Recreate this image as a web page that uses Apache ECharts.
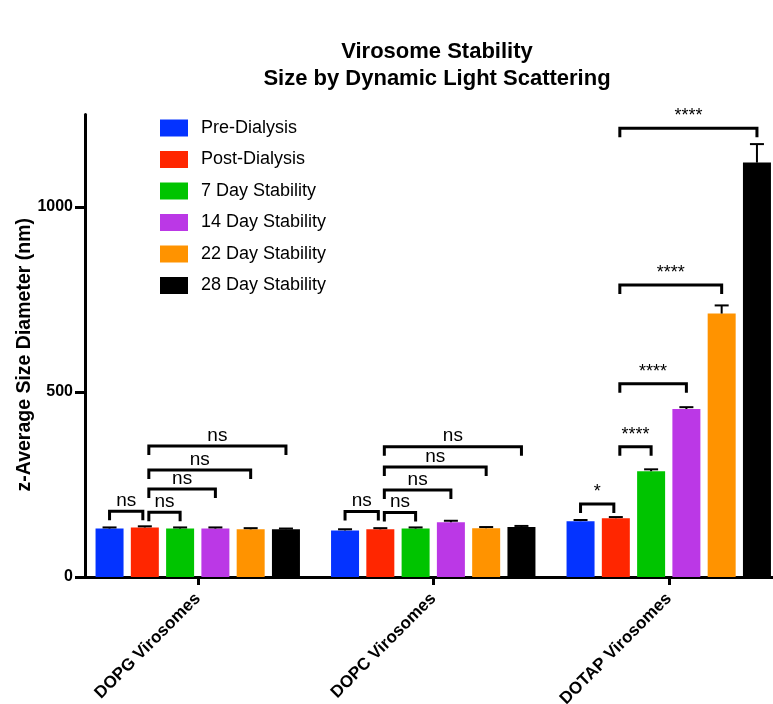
<!DOCTYPE html>
<html><head><meta charset="utf-8">
<script src="https://cdn.jsdelivr.net/npm/echarts@6/dist/echarts.min.js"></script>
<style>html,body{margin:0;padding:0;background:#fff;overflow:hidden}body{width:773px;height:704px}#c{width:790px;height:704px}</style>
</head><body><div id="c"></div>
<script>
const categories = ['DOPG Virosomes', 'DOPC Virosomes', 'DOTAP Virosomes'];
const seriesNames = ['Pre-Dialysis', 'Post-Dialysis', '7 Day Stability', '14 Day Stability', '22 Day Stability', '28 Day Stability'];
const preDialysis = [131, 126, 151];
const postDialysis = [134, 129, 159];
const day7 = [131, 131, 286];
const day14 = [131, 148, 454];
const day22 = [129, 132, 712];
const day28 = [129, 135, 1120];
const preErr = [3, 3, 3];
const postErr = [3, 3, 3];
const day7Err = [3, 3, 5];
const day14Err = [3, 4, 5];
const day22Err = [3, 3, 22];
const day28Err = [2, 3, 50];
const yTicks = [0, 500, 1000];
// brackets: [category index, from series, to series, height value, label]
const brackets = [
  [0, 0, 1, 178, 'ns'], [0, 1, 2, 175, 'ns'], [0, 1, 3, 238, 'ns'], [0, 1, 4, 289, 'ns'], [0, 1, 5, 354, 'ns'],
  [1, 0, 1, 177, 'ns'], [1, 1, 2, 174, 'ns'], [1, 1, 3, 235, 'ns'], [1, 1, 4, 297, 'ns'], [1, 1, 5, 352, 'ns'],
  [2, 0, 1, 197, '*'], [2, 1, 2, 352, '****'], [2, 1, 3, 522, '****'], [2, 1, 4, 789, '****'], [2, 1, 5, 1213, '****']
];

const values = [preDialysis, postDialysis, day7, day14, day22, day28];
const errs = [preErr, postErr, day7Err, day14Err, day22Err, day28Err];
const colors = ['#0433ff', '#ff2600', '#00c400', '#bb38e6', '#ff9300', '#000000'];
const BAR_W = 28, GAP = 0.26, PITCH = BAR_W * (1 + GAP);
const font = 'Liberation Sans, Arial, Helvetica, sans-serif';

function offsetOf(k) { return (k - 2.5) * PITCH; }

const series = [];
values.forEach((v, k) => {
  series.push({
    name: seriesNames[k], type: 'bar', data: v, barWidth: BAR_W, barGap: (GAP * 100) + '%',
    itemStyle: { color: colors[k] }, z: 2
  });
});
values.forEach((v, k) => {
  series.push({
    type: 'custom', z: 3, silent: true,
    data: v.map((val, i) => [i, val, errs[k][i]]),
    renderItem: function (params, api) {
      const base = api.coord([api.value(0), api.value(1)]);
      const top = api.coord([api.value(0), api.value(1) + api.value(2)]);
      const x = base[0] + offsetOf(k);
      return {
        type: 'group', children: [
          { type: 'line', shape: { x1: x, y1: base[1], x2: x, y2: top[1] }, style: { stroke: '#000', lineWidth: 2 } },
          { type: 'line', shape: { x1: x - 7, y1: top[1], x2: x + 7, y2: top[1] }, style: { stroke: '#000', lineWidth: 2 } }
        ]
      };
    }
  });
});
series.push({
  type: 'custom', z: 4, silent: true,
  data: brackets.map(b => [b[0], b[3], b[1], b[2]]),
  renderItem: function (params, api) {
    const b = brackets[params.dataIndex];
    const p = api.coord([b[0], b[3]]);
    const x1 = p[0] + offsetOf(b[1]) + (b[1] === 1 ? 4 : 0);
    const x2 = p[0] + offsetOf(b[2]) + (b[2] === 1 ? -2 : 0);
    const y = p[1];
    const isNs = b[4] === 'ns';
    return {
      type: 'group', children: [
        { type: 'polyline', shape: { points: [[x1, y + 9], [x1, y], [x2, y], [x2, y + 9]] },
          style: { stroke: '#000', lineWidth: 3, fill: null, lineJoin: 'miter' } },
        { type: 'text', x: (x1 + x2) / 2, y: isNs ? y - 1 : y - 3,
          style: { text: b[4], fill: '#000', font: (isNs ? '19px ' : '18px ') + font, align: 'center', verticalAlign: 'bottom' } }
      ]
    };
  }
});

const chart = echarts.init(document.getElementById('c'), null, { renderer: 'canvas' });
chart.setOption({
  animation: false,
  backgroundColor: '#fff',
  title: {
    text: 'Virosome Stability\nSize by Dynamic Light Scattering',
    left: 432, top: 33, textAlign: 'center',
    textStyle: { fontFamily: font, fontWeight: 'bold', fontSize: 22, lineHeight: 27, color: '#000' }
  },
  legend: {
    data: seriesNames, orient: 'vertical', left: 155, top: 114,
    itemWidth: 28, itemHeight: 17, itemGap: 13.5, icon: 'rect',
    textStyle: { fontFamily: font, fontSize: 18, color: '#000', padding: [0, 0, 0, 8] }
  },
  grid: { left: 80, right: 3.5, top: 114.5, bottom: 127, containLabel: false, outerBoundsMode: 'none' },
  xAxis: {
    type: 'category', data: categories,
    axisLine: { lineStyle: { color: '#000', width: 3 } },
    axisTick: { show: true, alignWithLabel: true, length: 8, lineStyle: { color: '#000', width: 3 } },
    axisLabel: { rotate: 45, margin: 19, color: '#000', fontFamily: font, fontWeight: 'bold', fontSize: 17, interval: 0 }
  },
  yAxis: {
    type: 'value', min: 0, max: 1250, offset: -5,
    name: 'z-Average Size Diameter (nm)', nameLocation: 'middle', nameGap: 50, nameMoveOverlap: false,
    nameTextStyle: { fontFamily: font, fontWeight: 'bold', fontSize: 19.5, color: '#000', padding: [0, 18, 0, 0] },
    splitLine: { show: false },
    axisLine: { show: true, lineStyle: { color: '#000', width: 3 } },
    axisTick: { show: true, length: 10, lineStyle: { color: '#000', width: 3 }, customValues: yTicks },
    axisLabel: { color: '#000', fontFamily: font, fontWeight: 'bold', fontSize: 16, margin: 12, customValues: yTicks,
      formatter: v => String(v) }
  },
  series: series
});
</script></body></html>
